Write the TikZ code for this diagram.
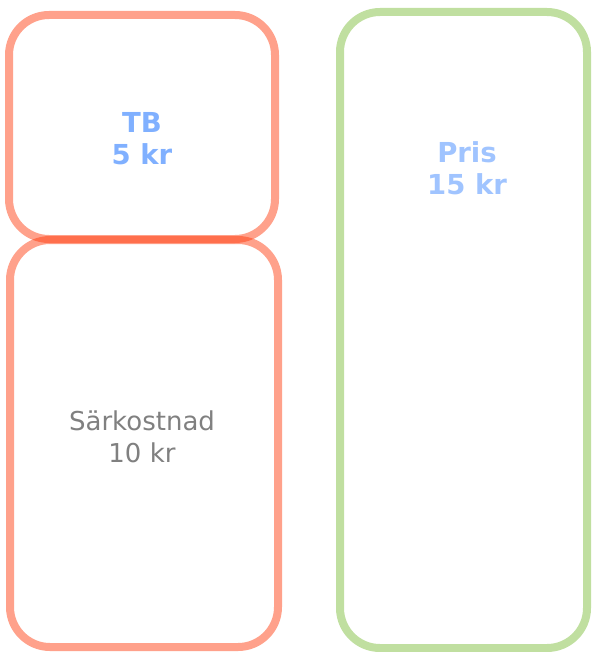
\documentclass[tikz,border=0pt]{standalone}
\usepackage{fontspec}
\setmainfont{DejaVu Sans}
\usepackage{xcolor}
\usepackage{tikz}
\usetikzlibrary{positioning}
\definecolor{kostrod}{RGB}{255,55,8}
\definecolor{prisgron}{RGB}{192,223,160}
\definecolor{tbbla}{RGB}{128,176,255}
\definecolor{prisbla}{RGB}{160,196,255}
\definecolor{textgra}{RGB}{128,128,128}

\begin{document}
\begin{tikzpicture}[x=1pt,y=-1pt,
      box/.style={rectangle,rounded corners=40pt,line width=8pt,inner sep=0pt,outer sep=0pt},
      rodbox/.style={box,draw=kostrod,draw opacity=0.47},
      gronbox/.style={box,draw=prisgron}]
      \tikzstyle{every node}=[align=center]
      \useasboundingbox (0,0) rectangle (591,652);
      % kostnadssidan
      \node[rodbox,minimum width=266pt,minimum height=224pt] (TB) at (142,127) {};
      \node[rodbox,minimum width=268pt,minimum height=407pt] (Sark) at (144,443.5) {};
      % prissidan
      \node[gronbox,minimum width=247pt,minimum height=636pt] (Pris) at (463.5,330) {};
      \node[text=tbbla,font=\fontsize{27.5}{32}\selectfont\bfseries] (TBtext) at (142,139) {TB\\5 kr};
      \node[text=textgra,font=\fontsize{26}{32}\selectfont] (Sarktext) at (142,436.5) {Särkostnad\\10 kr};
      \node[text=prisbla,font=\fontsize{27.5}{32}\selectfont\bfseries] (Pristext) at (467,168.5) {Pris\\15 kr};
\end{tikzpicture}
\end{document}
